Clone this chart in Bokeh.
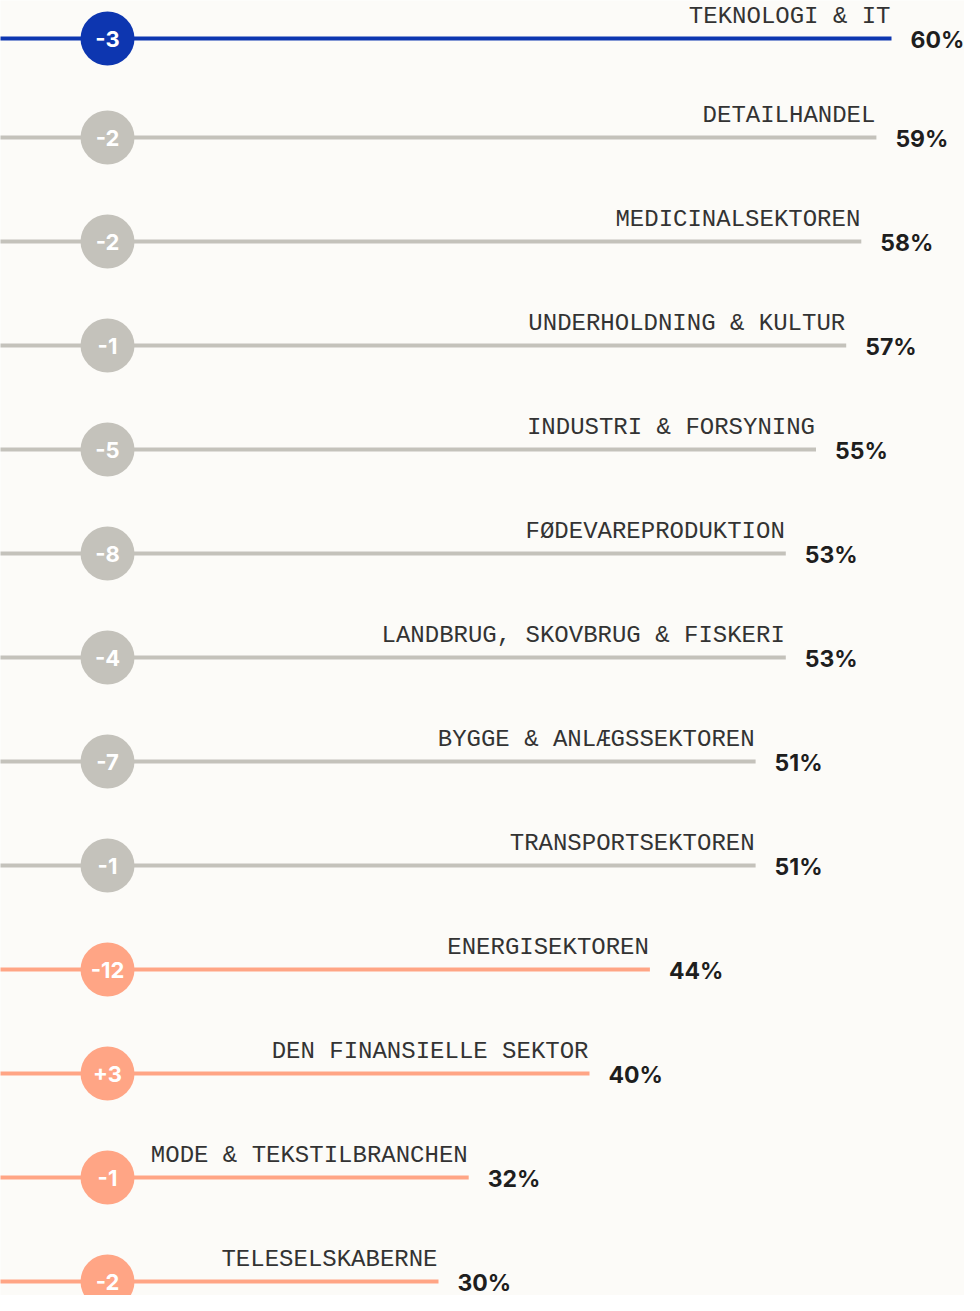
from bokeh.plotting import figure
from bokeh.models import Range1d, ColumnDataSource
from bokeh.core.properties import value
from bokeh.embed import file_html
from bokeh.resources import INLINE

categories = ["TEKNOLOGI & IT", "DETAILHANDEL", "MEDICINALSEKTOREN",
              "UNDERHOLDNING & KULTUR", "INDUSTRI & FORSYNING", "FØDEVAREPRODUKTION",
              "LANDBRUG, SKOVBRUG & FISKERI", "BYGGE & ANLÆGSSEKTOREN", "TRANSPORTSEKTOREN",
              "ENERGISEKTOREN", "DEN FINANSIELLE SEKTOR", "MODE & TEKSTILBRANCHEN",
              "TELESELSKABERNE"]
shares = [60, 59, 58, 57, 55, 53, 53, 51, 51, 44, 40, 32, 30]
changes = ["-3", "-2", "-2", "-1", "-5", "-8", "-4", "-7", "-1", "-12", "+3", "-1", "-2"]
groups = ["top", "mid", "mid", "mid", "mid", "mid", "mid", "mid", "mid",
          "low", "low", "low", "low"]

palette = {"top": "#0d36b0", "mid": "#c4c2bb", "low": "#ffa585"}
BG = "#fcfbf8"

W, H = 964, 1295
px_per_pct = 15.1
dx = 15
x0 = dx / px_per_pct

# vertical layout in screen pixels (y axis runs downward)
first_px = 38
second_px = 137
row_px = 104
ypos = [first_px] + [second_px + row_px * (i - 1) for i in range(1, len(categories))]

src = ColumnDataSource(dict(
    y=ypos,
    share=shares,
    zero=[-1] * len(shares),
    cat=categories,
    pct=[f"{s}%" for s in shares],
    chg=changes,
    color=[palette[g] for g in groups],
    circx=[122 / px_per_pct] * len(shares),
))

p = figure(width=W, height=H, output_backend="svg", toolbar_location=None,
           x_range=Range1d(x0, x0 + W / px_per_pct),
           y_range=Range1d(H, 0),
           min_border=0, background_fill_color=BG, border_fill_color=BG)
p.axis.visible = False
p.grid.visible = False
p.outline_line_color = None

p.segment(x0="zero", y0="y", x1="share", y1="y", line_color="color",
          line_width=4, source=src)
p.scatter(x="circx", y="y", size=54, fill_color="color", line_color=None, source=src)
p.text(x="circx", y="y", text="chg", text_color="white", text_align="center",
       text_baseline="middle", text_font=value("Inter"), text_font_style="bold",
       text_font_size="22px", y_offset=0, source=src)
p.text(x="share", y="y", text="cat", text_color="#333333", text_align="right",
       text_baseline="alphabetic", text_font=value("Liberation Mono"),
       text_font_size="24px", x_offset=-1, y_offset=-22, source=src)
p.text(x="share", y="y", text="pct", text_color="#1e1e1e", text_align="left",
       text_baseline="alphabetic", text_font=value("Inter"), text_font_style="bold",
       text_font_size="23px", x_offset=19, y_offset=1, source=src)

open("out.html", "w").write(file_html(p, INLINE))
